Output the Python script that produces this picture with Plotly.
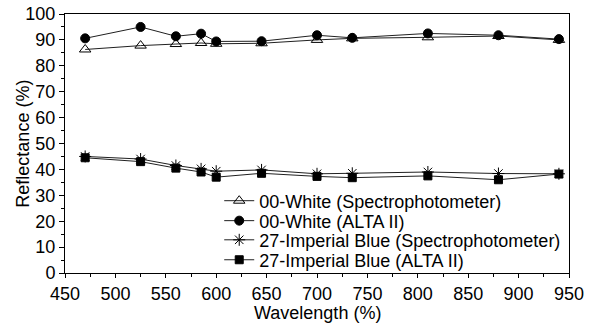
import plotly.graph_objects as go

wavelength = [470, 525, 560, 585, 600, 645, 700, 735, 810, 880, 940]
white_spectro = [86.3, 87.8, 88.4, 88.8, 88.5, 88.7, 90.0, 90.6, 91.0, 91.5, 90.0]
white_alta = [90.6, 95.0, 91.4, 92.4, 89.4, 89.5, 91.8, 90.8, 92.5, 91.8, 90.3]
blue_spectro = [45.0, 44.0, 41.5, 40.2, 39.3, 39.8, 38.3, 38.5, 39.0, 38.4, 38.3]
blue_alta = [44.5, 43.0, 40.5, 39.0, 37.0, 38.5, 37.3, 36.8, 37.5, 36.0, 38.2]

series = [
    ("00-White (Spectrophotometer)", white_spectro, "triangle-up-open", 10),
    ("00-White (ALTA II)", white_alta, "circle", 9),
    ("27-Imperial Blue (Spectrophotometer)", blue_spectro, "asterisk-open", 10),
    ("27-Imperial Blue (ALTA II)", blue_alta, "square", 8),
]
legend_ids = ["legend", "legend2", "legend3", "legend4"]
legend_rows = [0.278, 0.201, 0.127, 0.050]

FONT = "Liberation Sans, Arial, sans-serif"
fig = go.Figure()
for (name, vals, sym, size), lid in zip(series, legend_ids):
    fig.add_trace(go.Scatter(
        x=wavelength, y=vals, name=name, mode="lines+markers", legend=lid,
        line=dict(color="#202020", width=1),
        marker=dict(symbol=sym, size=size, color="black",
                    line=dict(color="black", width=1)),
    ))

axis_font = dict(family=FONT, size=18, color="black")
legend_common = dict(x=0.306, xanchor="left", yanchor="middle",
                     bgcolor="rgba(0,0,0,0)", font=dict(family=FONT, size=18, color="black"),
                     tracegroupgap=0, itemwidth=30)
layout_legends = {lid: dict(y=yy, **legend_common) for lid, yy in zip(legend_ids, legend_rows)}

fig.update_layout(
    width=598, height=324,
    margin=dict(l=65, r=29, t=14, b=51, autoexpand=False),
    paper_bgcolor="white", plot_bgcolor="white",
    font=dict(family=FONT, size=18, color="black"),
    showlegend=True,
    **layout_legends,
)
fig.add_annotation(text="Wavelength (%)", xref="paper", yref="paper", x=0.5, y=-0.153,
                   yanchor="middle", showarrow=False, font=axis_font)
fig.add_annotation(text="Reflectance (%)", xref="paper", yref="paper", x=-0.085, y=0.5,
                   xanchor="center", yanchor="middle", textangle=-90, showarrow=False, font=axis_font)
fig.update_xaxes(
    range=[450, 950], tickvals=list(range(450, 951, 50)),
    ticks="outside", ticklen=4, tickcolor="black",
    minor=dict(ticks="outside", ticklen=3, dtick=25, tickcolor="black"),
    showline=True, linecolor="black", linewidth=1, mirror=True,
    showgrid=False, zeroline=False, tickfont=axis_font, automargin=False,
)
fig.update_yaxes(
    range=[0, 100], tickvals=list(range(0, 101, 10)),
    ticks="outside", ticklen=5, tickcolor="black",
    minor=dict(ticks="outside", ticklen=3, dtick=5, tickcolor="black"),
    showline=True, linecolor="black", linewidth=1, mirror=True,
    showgrid=False, zeroline=False, tickfont=axis_font, automargin=False,
)
fig.write_html("out.html")
